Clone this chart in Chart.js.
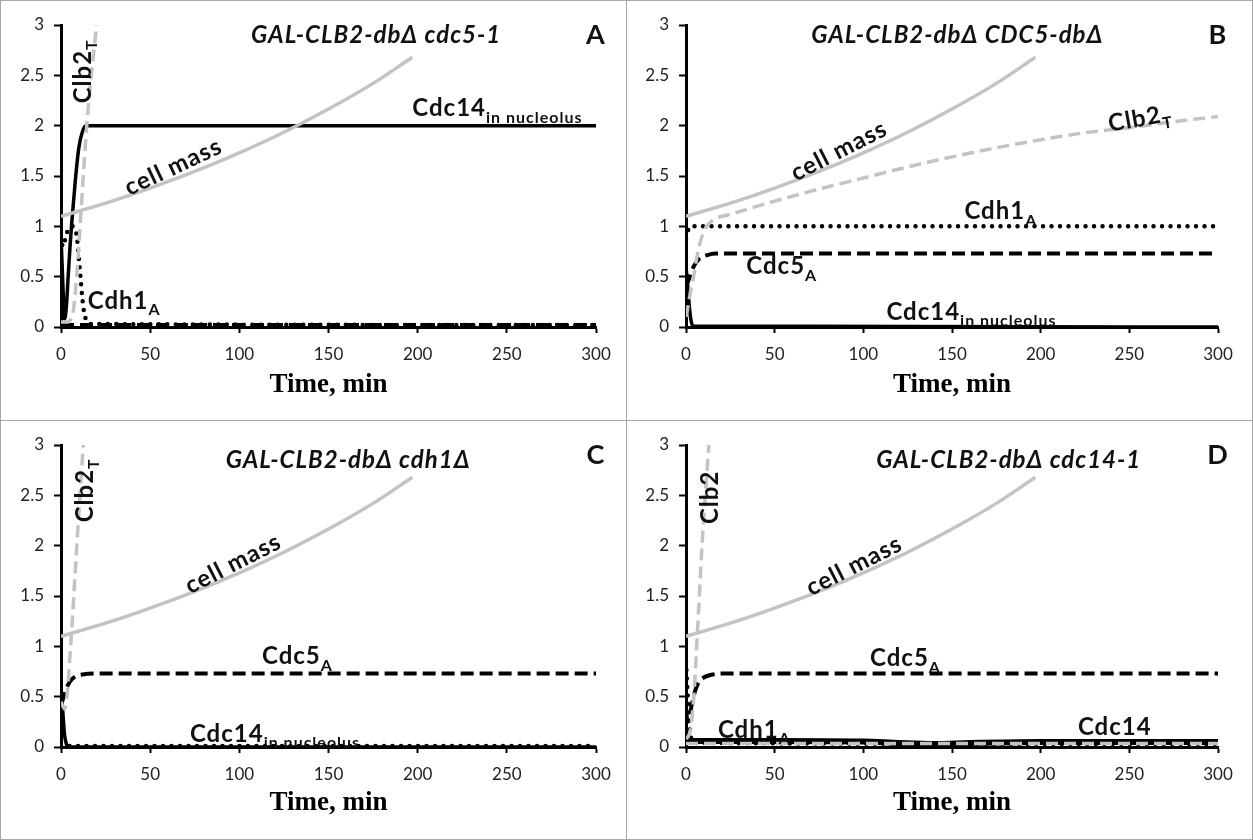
<!DOCTYPE html>
<html>
<head>
<meta charset="utf-8">
<script src="https://cdn.jsdelivr.net/npm/chart.js@4.4.0/dist/chart.umd.min.js"></script>
<style>
  body { margin: 0; background: #fff; }
  #fig { position: relative; width: 1253px; height: 840px; background: #fff; overflow: hidden; }
  .panel { position: absolute; }
  .line { position: absolute; background: #a8a8a8; }
</style>
</head>
<body>
<div id="fig">
  <div class="panel" style="left:0;top:0"><canvas id="cA" width="626" height="420"></canvas></div>
  <div class="panel" style="left:626px;top:0"><canvas id="cB" width="627" height="420"></canvas></div>
  <div class="panel" style="left:0;top:420px"><canvas id="cC" width="626" height="420"></canvas></div>
  <div class="panel" style="left:626px;top:420px"><canvas id="cD" width="627" height="420"></canvas></div>
  <div class="line" style="left:0;top:0;width:1253px;height:1px"></div>
  <div class="line" style="left:0;top:839px;width:1253px;height:1px"></div>
  <div class="line" style="left:0;top:0;width:1px;height:840px"></div>
  <div class="line" style="left:1252px;top:0;width:1px;height:840px"></div>
  <div class="line" style="left:626px;top:0;width:1px;height:840px"></div>
  <div class="line" style="left:0;top:420px;width:1253px;height:1px"></div>
</div>
<script>
// axis ticks
const xTicks = [0, 50, 100, 150, 200, 250, 300];
const yTicks = [0, 0.5, 1, 1.5, 2, 2.5, 3];

// cell mass, same in every panel
const massTime = [0, 25, 50, 75, 100, 125, 150, 175, 197];
const cellMass = [1.10, 1.23, 1.38, 1.545, 1.73, 1.935, 2.165, 2.42, 2.68];

// A: GAL-CLB2-dbD cdc5-1
const aClb2Time = [0, 4, 6, 7, 9, 10.7, 12.5, 14.4, 17, 20];
const aClb2 = [0.05, 0.05, 0.1, 0.17, 0.55, 1.0, 1.5, 1.99, 2.5, 3.0];
const aCdc14Time = [0, 1, 2, 3, 4, 5, 6, 8, 10, 12, 14, 300];
const aCdc14 = [0.9, 0.45, 0.08, 0.2, 0.5, 0.78, 1.03, 1.45, 1.78, 1.94, 2.0, 2.0];
const aCdh1Time = [0, 1, 2, 4, 6, 8, 9, 10, 11, 12, 13, 14.5, 17, 300];
const aCdh1 = [0.9, 0.8, 0.85, 0.97, 1.0, 0.97, 0.88, 0.68, 0.48, 0.28, 0.14, 0.06, 0.03, 0.02];
const aCdc5Time = [0, 300];
const aCdc5 = [0.02, 0.02];

// B: GAL-CLB2-dbD CDC5-dbD
const bClb2Time = [0, 1.5, 3, 4.5, 6, 8, 10, 12, 17, 23, 50, 75, 100, 125, 150, 175, 200, 225, 250, 275, 300];
const bClb2 = [0.1, 0.24, 0.4, 0.52, 0.68, 0.84, 0.95, 1.01, 1.08, 1.11, 1.25, 1.37, 1.48, 1.59, 1.69, 1.78, 1.86, 1.93, 1.98, 2.04, 2.09];
const bCdh1Time = [0, 1, 2, 3, 300];
const bCdh1 = [0.88, 0.95, 0.99, 1.0, 1.0];
const bCdc5Time = [0, 1.5, 4.3, 7, 12, 17, 300];
const bCdc5 = [0.4, 0.47, 0.6, 0.67, 0.715, 0.73, 0.73];
const bCdc14Time = [0, 1, 2, 3, 4, 300];
const bCdc14 = [0.6, 0.4, 0.18, 0.05, 0.01, 0];

// C: GAL-CLB2-dbD cdh1D
const cClb2Time = [0, 2, 3, 4, 5, 6, 7, 8, 9, 10, 11, 12.5];
const cClb2 = [0.45, 0.38, 0.45, 0.63, 0.9, 1.16, 1.45, 1.75, 2.04, 2.32, 2.6, 3.0];
const cCdc5Time = [0, 1, 3, 5, 8, 12, 18, 300];
const cCdc5 = [0.42, 0.47, 0.58, 0.65, 0.7, 0.72, 0.73, 0.73];
const cCdc14Time = [0, 1, 2, 3, 4, 300];
const cCdc14 = [0.55, 0.35, 0.12, 0.03, 0, 0];
const cCdh1Time = [0, 300];
const cCdh1 = [0.01, 0.01];

// D: GAL-CLB2-dbD cdc14-1
const dClb2Time = [0, 1, 2.5, 4.4, 6.3, 9.1, 12.9];
const dClb2 = [0.08, 0.1, 0.17, 0.5, 1.09, 2.02, 3.0];
const dClb2LowTime = [0, 300];
const dClb2Low = [0.035, 0.035];
const dCdc5Time = [0, 1, 2, 3, 5, 7, 10, 15, 20, 300];
const dCdc5 = [0.35, 0.25, 0.3, 0.4, 0.55, 0.64, 0.69, 0.72, 0.73, 0.73];
const dCdh1Time = [0, 1, 2, 3, 5, 300];
const dCdh1 = [0.85, 0.5, 0.2, 0.08, 0.04, 0.03];
const dCdc14Time = [0, 50, 100, 120, 140, 160, 200, 250, 300];
const dCdc14 = [0.06, 0.06, 0.055, 0.04, 0.03, 0.04, 0.05, 0.05, 0.05];

const FONT = "Lato, 'Open Sans', sans-serif";
const GREY = '#c3c3c3';

function pts(ts, vs) {
  return ts.map((t, i) => ({ x: t, y: vs[i] }));
}

// line styles
function massLine() {
  return { data: pts(massTime, cellMass), borderColor: GREY, borderWidth: 3.5 };
}
function greyDash(ts, vs) {
  return { data: pts(ts, vs), borderColor: GREY, borderWidth: 3.5, borderDash: [12, 6] };
}
function blackSolid(ts, vs, w) {
  return { data: pts(ts, vs), borderColor: '#000', borderWidth: w || 3.5 };
}
function blackDash(ts, vs) {
  return { data: pts(ts, vs), borderColor: '#000', borderWidth: 4, borderDash: [13, 6] };
}
function blackDot(ts, vs) {
  return { data: pts(ts, vs), borderColor: '#000', borderWidth: 4.5, borderDash: [0, 8.5], borderCapStyle: 'round' };
}

// text drawn on top of the plot, placed in data units
const notesPlugin = {
  id: 'notes',
  afterDatasetsDraw(chart, args, opts) {
    const { ctx } = chart;
    const xs = chart.scales.x, ys = chart.scales.y;
    for (const n of opts.items) {
      ctx.save();
      ctx.translate(xs.getPixelForValue(n.t), ys.getPixelForValue(n.v));
      ctx.rotate((n.rot || 0) * Math.PI / 180);
      ctx.fillStyle = '#111';
      ctx.textBaseline = 'middle';
      ctx.textAlign = 'left';
      ctx.letterSpacing = '1px';
      const mainFont = (n.italic ? 'italic ' : '') + 'bold ' + n.size + 'px ' + FONT;
      const subFont = 'bold ' + Math.round(n.size * 0.66) + 'px ' + FONT;
      ctx.font = mainFont;
      const w = ctx.measureText(n.text).width;
      let sw = 0;
      if (n.sub) { ctx.font = subFont; sw = ctx.measureText(n.sub).width; }
      const x0 = n.left ? 0 : -(w + sw) / 2;
      ctx.font = mainFont;
      ctx.fillText(n.text, x0, 0);
      if (n.sub) {
        ctx.font = subFont;
        ctx.fillText(n.sub, x0 + w, n.size * 0.38);
      }
      ctx.restore();
    }
  }
};

function makeChart(id, box, datasets, notes) {
  const canvas = document.getElementById(id);
  const W = canvas.width, H = canvas.height;
  datasets.forEach(d => {
    d.pointRadius = 0;
    d.fill = false;
    d.cubicInterpolationMode = 'monotone';
  });
  return new Chart(canvas, {
    type: 'line',
    data: { datasets },
    options: {
      responsive: false,
      animation: false,
      layout: { padding: { left: 0, top: box.top, right: W - box.right, bottom: 0 } },
      plugins: { legend: { display: false }, tooltip: { enabled: false }, notes: { items: notes } },
      scales: {
        x: {
          type: 'linear', min: xTicks[0], max: xTicks[xTicks.length - 1],
          afterBuildTicks: s => { s.ticks = xTicks.map(v => ({ value: v })); },
          afterFit: s => { s.height = H - box.bottom; },
          ticks: { color: '#222', font: { family: FONT, size: 17 }, padding: 11, maxRotation: 0, callback: v => String(v) },
          grid: { drawOnChartArea: false, tickLength: 6, tickColor: '#000', tickWidth: 2 },
          border: { color: '#000', width: 3 },
          title: {
            display: true, text: 'Time, min', color: '#000',
            font: { family: "'Liberation Serif', 'DejaVu Serif', serif", weight: 'bold', size: 27 },
            padding: { top: 0, bottom: H - box.title - 16.2 }
          }
        },
        y: {
          type: 'linear', min: yTicks[0], max: yTicks[yTicks.length - 1],
          afterBuildTicks: s => { s.ticks = yTicks.map(v => ({ value: v })); },
          afterFit: s => { s.width = box.left; },
          ticks: { color: '#222', font: { family: FONT, size: 17 }, padding: 10, callback: v => String(v) },
          grid: { drawOnChartArea: false, tickLength: 7, tickColor: '#000', tickWidth: 2 },
          border: { color: '#000', width: 3 }
        }
      }
    },
    plugins: [notesPlugin]
  });
}

const boxL = { left: 61, right: 596, top: 25, bottom: 327, title: 385 };
const boxR = { left: 60, right: 592, top: 25, bottom: 327, title: 385 };
const boxLC = { left: 61, right: 596, top: 25, bottom: 327, title: 383 };
const boxRD = { left: 60, right: 592, top: 25, bottom: 327, title: 383 };

makeChart('cA', boxL, [
  massLine(),
  greyDash(aClb2Time, aClb2),
  blackDash(aCdc5Time, aCdc5),
  blackDot(aCdh1Time, aCdh1),
  blackSolid(aCdc14Time, aCdc14)
], [
  { t: 176.7, v: 2.9, text: 'GAL-CLB2-db\u0394 cdc5-1', size: 24, italic: true },
  { t: 300, v: 2.9, text: 'A', size: 27 },
  { t: 197, v: 2.17, text: 'Cdc14', sub: 'in nucleolus', size: 24, left: true },
  { t: 63, v: 1.59, text: 'cell mass', size: 24, rot: -25 },
  { t: 12.3, v: 2.54, text: 'Clb2', sub: 'T', size: 24, rot: -90 },
  { t: 15, v: 0.26, text: 'Cdh1', sub: 'A', size: 24, left: true }
]);

makeChart('cB', boxR, [
  massLine(),
  greyDash(bClb2Time, bClb2),
  blackDot(bCdh1Time, bCdh1),
  blackDash(bCdc5Time, bCdc5),
  blackSolid(bCdc14Time, bCdc14)
], [
  { t: 153, v: 2.9, text: 'GAL-CLB2-db\u0394 CDC5-db\u0394', size: 24, italic: true },
  { t: 300, v: 2.9, text: 'B', size: 27 },
  { t: 86.3, v: 1.75, text: 'cell mass', size: 24, rot: -27 },
  { t: 256, v: 2.07, text: 'Clb2', sub: 'T', size: 24, rot: -10 },
  { t: 157, v: 1.15, text: 'Cdh1', sub: 'A', size: 24, left: true },
  { t: 34, v: 0.6, text: 'Cdc5', sub: 'A', size: 24, left: true },
  { t: 113, v: 0.15, text: 'Cdc14', sub: 'in nucleolus', size: 24, left: true }
]);

makeChart('cC', boxLC, [
  massLine(),
  greyDash(cClb2Time, cClb2),
  blackDot(cCdh1Time, cCdh1),
  blackDash(cCdc5Time, cCdc5),
  blackSolid(cCdc14Time, cCdc14)
], [
  { t: 161, v: 2.85, text: 'GAL-CLB2-db\u0394 cdh1\u0394', size: 24, italic: true },
  { t: 300, v: 2.9, text: 'C', size: 27 },
  { t: 96.5, v: 1.82, text: 'cell mass', size: 24, rot: -27 },
  { t: 13.5, v: 2.55, text: 'Clb2', sub: 'T', size: 24, rot: -90 },
  { t: 112.7, v: 0.9, text: 'Cdc5', sub: 'A', size: 24, left: true },
  { t: 72.3, v: 0.13, text: 'Cdc14', sub: 'in nucleolus', size: 24, left: true }
]);

makeChart('cD', boxRD, [
  massLine(),
  greyDash(dClb2Time, dClb2),
  greyDash(dClb2LowTime, dClb2Low),
  blackDash(dCdc5Time, dCdc5),
  blackDot(dCdh1Time, dCdh1),
  blackSolid(dCdc14Time, dCdc14, 6)
], [
  { t: 182, v: 2.85, text: 'GAL-CLB2-db\u0394 cdc14-1', size: 24, italic: true },
  { t: 300, v: 2.9, text: 'D', size: 27 },
  { t: 94.8, v: 1.8, text: 'cell mass', size: 24, rot: -27 },
  { t: 13.5, v: 2.48, text: 'Clb2', size: 24, rot: -90 },
  { t: 103.8, v: 0.88, text: 'Cdc5', sub: 'A', size: 24, left: true },
  { t: 18, v: 0.17, text: 'Cdh1', sub: 'A', size: 24, left: true },
  { t: 221, v: 0.2, text: 'Cdc14', size: 24, left: true }
]);
</script>
</body>
</html>
